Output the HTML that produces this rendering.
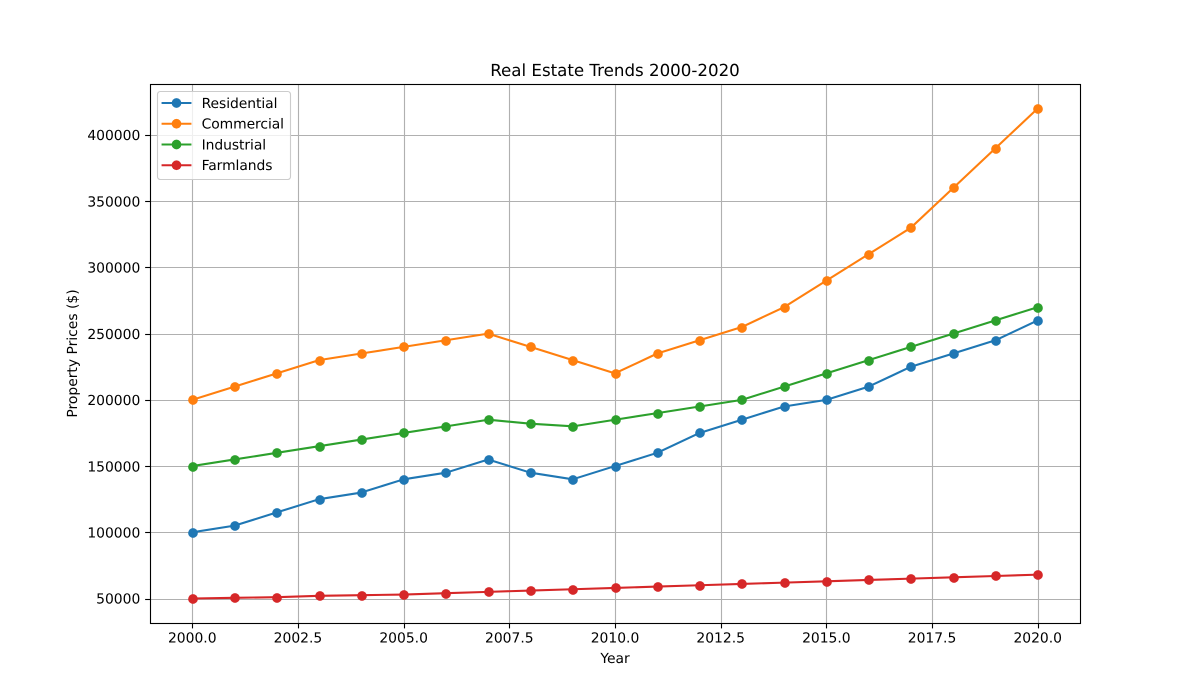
<!DOCTYPE html>
<html>
<head>
<meta charset="utf-8">
<title>Real Estate Trends 2000-2020</title>
<style>
html,body{margin:0;padding:0;background:#fff;}
svg{display:block;}
text{font-family:"DejaVu Sans",sans-serif;fill:#000;text-rendering:geometricPrecision;}
</style>
</head>
<body>
<svg id="chart" xmlns="http://www.w3.org/2000/svg" width="1200" height="700" viewBox="0 0 1200 700">
<rect x="0" y="0" width="1200" height="700" fill="#ffffff"/>
</svg>
<script>
const years = [2000,2001,2002,2003,2004,2005,2006,2007,2008,2009,2010,2011,2012,2013,2014,2015,2016,2017,2018,2019,2020];
const residential = [100000,105000,115000,125000,130000,140000,145000,155000,145000,140000,150000,160000,175000,185000,195000,200000,210000,225000,235000,245000,260000];
const commercial = [200000,210000,220000,230000,235000,240000,245000,250000,240000,230000,220000,235000,245000,255000,270000,290000,310000,330000,360000,390000,420000];
const industrial = [150000,155000,160000,165000,170000,175000,180000,185000,182000,180000,185000,190000,195000,200000,210000,220000,230000,240000,250000,260000,270000];
const farmlands = [50000,50500,51000,52000,52500,53000,54000,55000,56000,57000,58000,59000,60000,61000,62000,63000,64000,65000,66000,67000,68000];
const seriesNames = ["Residential","Commercial","Industrial","Farmlands"];
const seriesColors = ["#1f77b4","#ff7f0e","#2ca02c","#d62728"];
const seriesValues = [residential,commercial,industrial,farmlands];
const xTicks = [2000,2002.5,2005,2007.5,2010,2012.5,2015,2017.5,2020];
const xTickLabels = ["2000.0","2002.5","2005.0","2007.5","2010.0","2012.5","2015.0","2017.5","2020.0"];
const yTicks = [50000,100000,150000,200000,250000,300000,350000,400000];
const yTickLabels = ["50000","100000","150000","200000","250000","300000","350000","400000"];

const NS = "http://www.w3.org/2000/svg";
const svg = document.getElementById("chart");
const plotLeft = 150, plotRight = 1080, plotTop = 84, plotBottom = 623;

const allValues = seriesValues.flat();
const xMin = Math.min(...years), xMax = Math.max(...years);
const yMin = Math.min(...allValues), yMax = Math.max(...allValues);
const xPad = (xMax - xMin) * 0.05, yPad = (yMax - yMin) * 0.05;

function xScale(v){
  return plotLeft + (v - (xMin - xPad)) / ((xMax + xPad) - (xMin - xPad)) * (plotRight - plotLeft);
}
function yScale(v){
  return plotBottom - (v - (yMin - yPad)) / ((yMax + yPad) - (yMin - yPad)) * (plotBottom - plotTop);
}
/* pixel snapping as done by the Agg rasteriser */
function snapLine(p){ return Math.floor(p + 0.5) + 0.5; }
function snapMarker(p){ return Math.floor(p) + 1; }
function make(tag, attrs, parent){
  const el = document.createElementNS(NS, tag);
  for (const k in attrs) el.setAttribute(k, attrs[k]);
  (parent || svg).appendChild(el);
  return el;
}

/* axes background */
const axesBg = make("rect", {x:plotLeft, y:plotTop, width:plotRight-plotLeft, height:plotBottom-plotTop, fill:"#ffffff"});



/* grid */
const gridGroup = make("g", {stroke:"#b0b0b0", "stroke-width":"1.11", fill:"none"});


xTicks.forEach(t => {
  const x = snapLine(xScale(t));
  const l = make("line", {x1:x, x2:x, y1:plotTop, y2:plotBottom}, gridGroup);
  
  
});
yTicks.forEach(t => {
  const y = snapLine(yScale(t));
  const l = make("line", {x1:plotLeft, x2:plotRight, y1:y, y2:y}, gridGroup);
  
  
});

/* series */
seriesValues.forEach((vals, i) => {
  const g = make("g", {});
  
  
  const pts = vals.map((v, j) => xScale(years[j]).toFixed(2) + "," + yScale(v).toFixed(2)).join(" ");
  const line = make("polyline", {points:pts, fill:"none", stroke:seriesColors[i], "stroke-width":"2.08", "stroke-linejoin":"round", "stroke-linecap":"square"}, g);
  
  
  vals.forEach((v, j) => {
    const c = make("circle", {cx:snapMarker(xScale(years[j])), cy:snapMarker(yScale(v)), r:"4.86", fill:seriesColors[i]}, g);
    
    
  });
});

/* spines */
const spines = make("rect", {x:plotLeft+0.5, y:plotTop+0.5, width:plotRight-plotLeft, height:plotBottom-plotTop, fill:"none", stroke:"#000", "stroke-width":"1.11"});



/* ticks + labels */
xTicks.forEach((t, i) => {
  const x = snapLine(xScale(t));
  const tick = make("line", {x1:x, x2:x, y1:plotBottom, y2:plotBottom+5.4, stroke:"#000", "stroke-width":"1.11"});
  
  
  const lab = make("text", {x:xScale(t), y:642.5, "text-anchor":"middle", "font-size":"13.89"});
  lab.textContent = xTickLabels[i];
  
  
});
yTicks.forEach((t, i) => {
  const y = snapLine(yScale(t));
  const tick = make("line", {x1:plotLeft-4.86, x2:plotLeft, y1:y, y2:y, stroke:"#000", "stroke-width":"1.11"});
  
  
  const lab = make("text", {x:plotLeft-9.7, y:yScale(t)+5.2, "text-anchor":"end", "font-size":"13.89"});
  lab.textContent = yTickLabels[i];
  
  
});

/* titles */
const title = make("text", {x:615, y:76, "text-anchor":"middle", "font-size":"16.67"});
title.textContent = "Real Estate Trends 2000-2020";



const xTitle = make("text", {x:615, y:663, "text-anchor":"middle", "font-size":"13.89"});
xTitle.textContent = "Year";



const yTitle = make("text", {x:0, y:0, "text-anchor":"middle", "font-size":"13.89", transform:"translate(77,353.5) rotate(-90)"});
yTitle.textContent = "Property Prices ($)";



/* legend */
const legend = make("g", {});


const legendBox = make("rect", {x:157.5, y:91.5, width:133, height:88, rx:"2.8", ry:"2.8", fill:"#ffffff", "fill-opacity":"0.8", stroke:"#cccccc", "stroke-width":"1.11"}, legend);


seriesNames.forEach((name, i) => {
  const y = 103 + i * 20.75;
  const e = make("g", {}, legend);
  
  
  const l = make("line", {x1:162.6, x2:190.4, y1:y, y2:y, stroke:seriesColors[i], "stroke-width":"2.08", "stroke-linecap":"square"}, e);
  
  
  const c = make("circle", {cx:176.5, cy:y, r:"4.86", fill:seriesColors[i]}, e);
  
  
  const t = make("text", {x:201.6, y:y+4.9, "font-size":"13.89", "letter-spacing":"-0.06"}, e);
  t.textContent = name;
  
  
});
</script>
</body>
</html>
